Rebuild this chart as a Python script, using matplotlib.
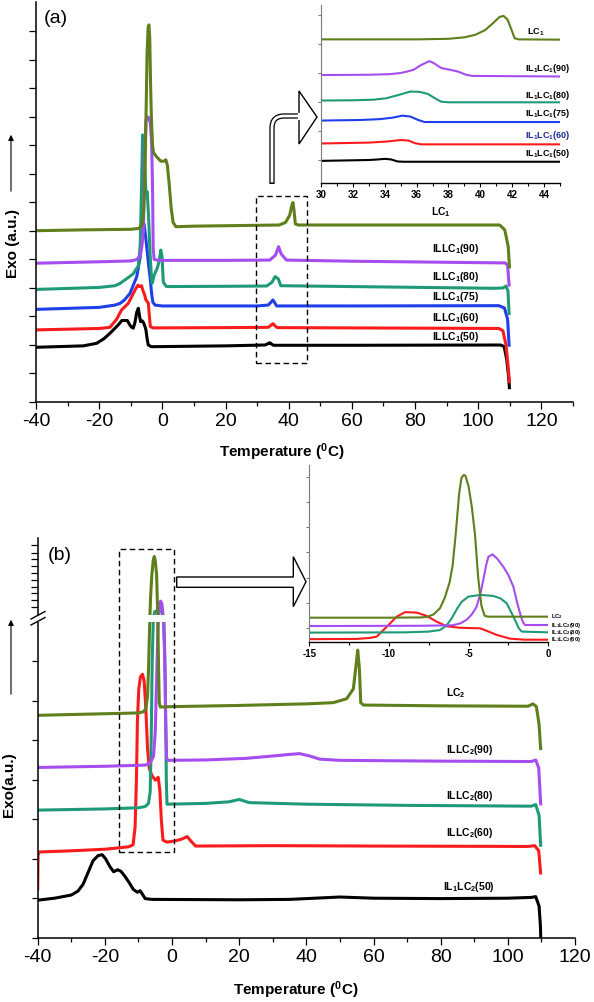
import matplotlib
matplotlib.use("Agg")
import matplotlib.pyplot as plt
from matplotlib.patches import Rectangle, Polygon, PathPatch
from matplotlib.path import Path
from matplotlib.ticker import MultipleLocator

plt.rcParams["font.family"] = ["Liberation Sans", "DejaVu Sans"]
plt.rcParams["mathtext.fontset"] = "custom"
plt.rcParams["mathtext.rm"] = "Liberation Sans"
plt.rcParams["mathtext.bf"] = "Liberation Sans:bold"
plt.rcParams["mathtext.default"] = "bf"
plt.rcParams["axes.unicode_minus"] = False

GREEN = "#5e7f1b"
PURPLE = "#a64df0"
TEAL = "#1f9a78"
BLUE = "#1f3fea"
RED = "#fa1c1c"
BLACK = "#000000"

# ---------------- panel (a): (temperature, signal) ----------------
a_lc1 = [(-40, 6.01), (-25, 6.04), (-10, 6.06), (-7.5, 6.09), (-6.5, 6.2), (-6.0, 6.5),
         (-5.6, 7.6), (-5.2, 9.8), (-4.85, 12.2), (-4.5, 13.15), (-4.25, 13.23), (-4.0, 12.8),
         (-3.7, 11.0), (-3.45, 9.9), (-3.1, 9.0), (-2.8, 8.75), (-1.8, 8.6), (-0.5, 8.45),
         (0.5, 8.45), (1.1, 8.5), (1.6, 8.3), (2.2, 7.6), (2.8, 6.8), (3.4, 6.3), (4.3, 6.15),
         (10, 6.17), (30, 6.2), (37, 6.21), (39, 6.3), (40.3, 6.55), (41.0, 6.9), (41.35, 7.0),
         (41.7, 6.7), (42.1, 6.25), (43, 6.21), (80, 6.21), (106.8, 6.21), (108.4, 6.04),
         (109.5, 5.45), (109.9, 4.69)]
a_90 = [(-40, 4.87), (-20, 4.92), (-10, 4.95), (-8, 5.0), (-7, 5.16), (-6.5, 5.45), (-6.0, 6.03),
        (-5.6, 8.5), (-5.2, 9.9), (-4.5, 10.0), (-3.8, 9.8), (-3.4, 9.1), (-3.1, 7.5), (-2.9, 5.4),
        (-2.6, 5.0), (-1, 4.97), (20, 4.97), (34, 4.98), (35.8, 5.15), (36.8, 5.45), (37.6, 5.2),
        (38.5, 5.08), (39.3, 4.98), (60, 4.94), (100, 4.89), (108.5, 4.88), (109.3, 4.8),
        (109.8, 4.05)]
a_80 = [(-40, 3.95), (-20, 4.02), (-15, 4.08), (-13.4, 4.16), (-11, 4.35), (-9.2, 4.5),
        (-7.6, 4.78), (-7.0, 5.5), (-6.6, 7.5), (-6.25, 9.37), (-5.8, 9.3), (-5.4, 7.8),
        (-5.2, 7.32), (-4.8, 7.38), (-4.4, 6.6), (-3.9, 5.22), (-3.5, 4.45), (-3.2, 4.17),
        (-2.6, 4.45), (-1.6, 4.7), (-1.0, 4.95), (-0.5, 5.33), (-0.1, 5.1), (0.3, 4.2),
        (1.3, 4.05), (20, 4.06), (33, 4.07), (34.7, 4.2), (35.7, 4.4), (36.7, 4.32), (37.5, 4.08),
        (60, 4.05), (105, 3.99), (107.8, 4.0), (108.8, 4.07), (109.4, 3.9), (109.8, 3.05)]
a_75 = [(-40, 3.25), (-20, 3.32), (-15, 3.4), (-13.4, 3.46), (-12, 3.58), (-10.25, 3.81),
        (-8.1, 4.4), (-7.0, 5.1), (-6.4, 5.8), (-5.8, 6.25), (-5.3, 5.8), (-4.8, 5.3),
        (-4.3, 4.75), (-3.9, 4.4), (-3.4, 3.8), (-3.0, 3.5), (-2.3, 3.4), (0, 3.37), (30, 3.37),
        (33.5, 3.4), (34.4, 3.5), (35.0, 3.58), (35.6, 3.48), (36.2, 3.37), (60, 3.37),
        (106.5, 3.38), (108.3, 3.3), (109.3, 2.9), (109.8, 1.94)]
a_60 = [(-40, 2.53), (-20, 2.58), (-16.6, 2.62), (-14.5, 2.9), (-12.9, 3.23), (-10.8, 3.46),
        (-9.2, 3.81), (-8.2, 4.02), (-7.7, 4.1), (-7.2, 4.05), (-6.6, 4.08), (-6.2, 3.93),
        (-5.6, 3.75), (-5.2, 3.58), (-4.45, 3.47), (-4.1, 3.0), (-3.8, 2.65), (-3.0, 2.6),
        (20, 2.61), (33.5, 2.62), (34.5, 2.7), (35.0, 2.75), (35.6, 2.68), (36.3, 2.61),
        (60, 2.6), (106.5, 2.58), (107.8, 2.5), (108.8, 2.0), (109.5, 1.2), (109.9, 0.66)]
a_50 = [(-40, 1.92), (-25, 1.97), (-20.8, 2.06), (-18.5, 2.22), (-16.6, 2.41), (-14, 2.7),
        (-12.8, 2.86), (-11.1, 2.86), (-10.3, 2.7), (-9.7, 2.62), (-9.2, 2.59), (-8.7, 2.78),
        (-8.1, 3.15), (-7.6, 3.29), (-7.2, 3.0), (-6.9, 2.82), (-6.4, 2.85), (-6.0, 2.79),
        (-5.5, 2.65), (-5.2, 2.53), (-4.8, 2.2), (-4.45, 2.0), (-3.5, 1.94), (20, 1.97),
        (32.5, 2.0), (33.5, 2.05), (34.0, 2.08), (34.6, 2.03), (35.2, 1.99), (60, 1.99),
        (107, 2.0), (108.2, 1.95), (109.0, 1.5), (109.6, 0.9), (109.9, 0.45)]
a_labels = ["ILLC$_1$(50)", "ILLC$_1$(60)", "ILLC$_1$(75)", "ILLC$_1$(80)", "ILLC$_1$(90)", "LC$_1$"]
a_label_y = [2.27, 2.95, 3.67, 4.40, 5.37, 6.68]

# inset (a), 30-45 C
ai_lc1 = [(30, 4.16), (36, 4.16), (38, 4.18), (39, 4.23), (39.7, 4.32), (40.3, 4.48), (40.8, 4.72),
          (41.2, 4.93), (41.45, 4.97), (41.7, 4.85), (41.95, 4.5), (42.15, 4.2), (42.4, 4.16),
          (45, 4.15)]
ai_90 = [(30, 2.93), (33, 2.94), (34.3, 2.96), (35.0, 3.0), (35.4, 3.05), (35.8, 3.11), (36.3, 3.28),
         (36.8, 3.41), (37.05, 3.35), (37.55, 3.17), (38.2, 3.1), (38.6, 3.05), (39.1, 2.94),
         (39.5, 2.9), (45, 2.88)]
ai_80 = [(30, 2.05), (32, 2.06), (33.3, 2.08), (34.1, 2.13), (34.85, 2.24), (35.6, 2.36), (36.2, 2.35),
         (36.7, 2.28), (37.15, 2.13), (37.55, 2.01), (38, 1.99), (45, 1.99)]
ai_75 = [(30, 1.36), (32.5, 1.38), (33.7, 1.41), (34.5, 1.46), (35.1, 1.53), (35.6, 1.5), (36.1, 1.38),
         (36.5, 1.31), (45, 1.31)]
ai_60 = [(30, 0.57), (33, 0.6), (34.2, 0.64), (35.0, 0.69), (35.5, 0.67), (35.9, 0.58), (36.3, 0.54),
         (45, 0.54)]
ai_50 = [(30, -0.03), (33, 0.0), (33.6, 0.02), (34.0, 0.04), (34.4, 0.02), (34.8, -0.05), (35.2, -0.06),
         (45, -0.06)]
ai_labels = ["IL$_1$LC$_1$(50)", "IL$_1$LC$_1$(60)", "IL$_1$LC$_1$(75)", "IL$_1$LC$_1$(80)",
             "IL$_1$LC$_1$(90)", "LC$_1$"]
ai_label_y = [0.21, 0.86, 1.62, 2.22, 3.17, 4.41]

# ---------------- panel (b) ----------------
b_lc2 = [(-40, 5.63), (-30, 5.65), (-20, 5.67), (-10, 5.69), (-8.5, 5.72), (-7.8, 5.8), (-7.3, 6.1),
         (-7.0, 6.8), (-6.7, 7.8), (-6.4, 8.6), (-6.0, 9.2), (-5.6, 9.55), (-5.3, 9.65), (-5.0, 9.55),
         (-4.6, 9.2), (-4.3, 8.3), (-4.0, 6.8), (-3.8, 5.95), (-3.5, 5.84), (0, 5.85), (20, 5.88),
         (40, 5.92), (48, 5.95), (52, 6.05), (54, 6.3), (54.8, 6.9), (55.3, 7.28), (55.8, 6.8),
         (56.2, 5.95), (57, 5.89), (80, 5.87), (106, 5.86), (107.5, 5.92), (108.5, 5.85),
         (109.3, 5.4), (109.8, 4.75)]
b_90 = [(-40, 4.31), (-20, 4.34), (-8, 4.37), (-6.5, 4.42), (-5.5, 4.6), (-5.0, 5.2), (-4.6, 6.5),
        (-4.2, 7.8), (-3.8, 8.35), (-3.4, 8.52), (-3.0, 8.45), (-2.6, 8.1), (-2.2, 7.2), (-1.9, 5.5),
        (-1.6, 4.55), (-1.2, 4.49), (10, 4.5), (22, 4.54), (30, 4.6), (35, 4.64), (38, 4.66),
        (41, 4.6), (44, 4.52), (50, 4.49), (80, 4.47), (107, 4.46), (108.3, 4.5), (109.2, 4.3),
        (109.8, 3.35)]
b_80 = [(-40, 3.23), (-20, 3.26), (-10, 3.29), (-8, 3.32), (-7, 3.4), (-6.5, 3.7), (-6.2, 5.0),
        (-5.9, 7.0), (-5.6, 8.0), (-5.2, 8.25), (-4.0, 8.3), (-3.0, 8.25), (-2.4, 8.0), (-2.0, 6.5),
        (-1.7, 4.0), (-1.5, 3.38), (10, 3.4), (17, 3.44), (20, 3.5), (23, 3.42), (40, 3.38),
        (70, 3.35), (107, 3.33), (108.3, 3.37), (109.3, 3.1), (109.8, 2.3)]
b_60 = [(-40, 1.2), (-39.9, 2.1), (-39.5, 2.17), (-30, 2.2), (-20, 2.24), (-13, 2.3), (-11.6, 2.35),
        (-11.0, 2.8), (-10.6, 4.0), (-10.3, 5.5), (-9.9, 6.3), (-9.4, 6.6), (-8.8, 6.67), (-8.3, 6.5),
        (-7.8, 5.8), (-7.3, 4.8), (-6.8, 4.3), (-6.1, 4.12), (-5.0, 3.99), (-4.1, 4.06), (-3.6, 3.7),
        (-3.2, 3.0), (-2.7, 2.47), (-1.5, 2.42), (1, 2.45), (3, 2.5), (4.5, 2.56), (5.6, 2.45),
        (7, 2.32), (30, 2.33), (60, 2.32), (106, 2.31), (108, 2.33), (109.2, 2.2), (109.8, 1.6)]
b_50 = [(-40, 0.95), (-35, 1.0), (-30, 1.08), (-28, 1.18), (-26.5, 1.35), (-25, 1.65), (-23.5, 1.95),
        (-22, 2.08), (-20.8, 2.1), (-19.8, 2.0), (-18.5, 1.8), (-17.4, 1.67), (-16.2, 1.72),
        (-15.2, 1.68), (-14, 1.55), (-12.8, 1.4), (-11.5, 1.22), (-10.3, 1.15), (-9.5, 1.19),
        (-8.8, 1.1), (-8.0, 0.99), (-6, 0.97), (20, 0.96), (35, 0.97), (45, 1.01), (50, 1.03),
        (60, 1.0), (80, 0.99), (100, 1.0), (107, 1.02), (108.3, 1.04), (109.3, 0.8), (109.7, 0.3),
        (109.8, 0.0)]
b_labels = ["IL$_1$LC$_2$(50)", "ILLC$_2$(60)", "ILLC$_2$(80)", "ILLC$_2$(90)", "LC$_2$"]
b_label_x = [88.5, 88.5, 88.5, 88.5, 84.6]
b_label_y = [1.29, 2.64, 3.59, 4.75, 6.19]
b_lower_ticks = [0, 1, 2, 3, 4, 5, 6, 7]
b_upper_ticks = [8.38, 8.55, 8.73, 8.89, 9.06, 9.24, 9.40, 9.59, 9.75, 9.95]

# inset (b), -15-0 C
bi_lc2 = [(-15, 0.42), (-10, 0.42), (-8, 0.43), (-7.6, 0.45), (-7.2, 0.55), (-6.8, 0.79), (-6.5, 1.2),
          (-6.2, 1.8), (-6.0, 2.5), (-5.8, 3.8), (-5.6, 5.3), (-5.45, 5.95), (-5.3, 6.06), (-5.2, 6.03),
          (-5.0, 5.6), (-4.8, 4.8), (-4.6, 3.7), (-4.4, 2.0), (-4.2, 0.9), (-4.0, 0.5), (-3.8, 0.46),
          (0, 0.46)]
bi_90 = [(-15, 0.09), (-8, 0.1), (-6, 0.12), (-5.5, 0.2), (-5.1, 0.35), (-4.8, 0.55), (-4.5, 0.85),
         (-4.25, 1.4), (-4.08, 1.91), (-3.9, 2.5), (-3.76, 2.83), (-3.5, 2.92), (-3.2, 2.75),
         (-2.82, 2.43), (-2.5, 2.1), (-2.19, 1.64), (-1.95, 1.0), (-1.77, 0.59), (-1.6, 0.25),
         (-1.46, 0.13), (0, 0.13)]
bi_80 = [(-15, -0.17), (-9, -0.16), (-7.5, -0.13), (-6.8, -0.07), (-6.4, 0.1), (-6.06, 0.4),
         (-5.7, 0.8), (-5.43, 1.05), (-5.02, 1.25), (-4.28, 1.32), (-3.45, 1.28), (-3.0, 1.18),
         (-2.61, 0.99), (-2.3, 0.6), (-2.09, 0.33), (-1.85, 0.0), (-1.67, -0.13), (0, -0.16)]
bi_60 = [(-15, -0.43), (-12, -0.42), (-11.2, -0.38), (-10.77, -0.33), (-10.14, 0.06), (-9.51, 0.46),
         (-8.99, 0.64), (-8.26, 0.62), (-7.63, 0.49), (-7.0, 0.26), (-6.37, 0.08), (-5.54, 0.02),
         (-4.28, 0.0), (-3.86, -0.1), (-3.24, -0.26), (-2.4, -0.41), (-1.5, -0.45), (0, -0.45)]
bi_labels = ["IL$_1$LC$_2$(60)", "IL$_1$LC$_2$(80)", "IL$_1$LC$_2$(90)", "LC$_2$"]
bi_label_y = [-0.46, -0.17, 0.13, 0.47]

W, H = 594, 1002
fig = plt.figure(figsize=(W / 100, H / 100), dpi=100)


def px_axes(left, top, right, bottom):
    return fig.add_axes([left / W, 1 - bottom / H, (right - left) / W, (bottom - top) / H])


def curve(ax, pts, color, lw):
    t, y = zip(*pts)
    ax.plot(t, y, color=color, lw=lw, solid_joinstyle="round", solid_capstyle="butt")


def style(ax, spine_lw=1.1):
    for s in ["top", "right"]:
        ax.spines[s].set_visible(False)
    for s in ["left", "bottom"]:
        ax.spines[s].set_linewidth(spine_lw)
    ax.patch.set_alpha(0)


# ----- panel (a) main -----
ax_a = px_axes(36, 2, 573, 402)
style(ax_a)
for pts, c in [(a_50, BLACK), (a_60, RED), (a_75, BLUE), (a_80, TEAL), (a_90, PURPLE), (a_lc1, GREEN)]:
    curve(ax_a, pts, c, 2.2)
ax_a.set_xlim(-40, 130)
ax_a.set_ylim(0, 400 / 28.5)
ax_a.set_xticks(range(-40, 121, 20))
ax_a.xaxis.set_minor_locator(MultipleLocator(10))
ax_a.set_yticks(range(0, 14))
ax_a.set_yticklabels([])
ax_a.tick_params(axis="x", which="major", length=5, width=0.9, labelsize=14, pad=3)
ax_a.tick_params(axis="x", which="minor", length=3, width=0.9)
ax_a.tick_params(axis="y", length=5, width=0.9)
for lab, y in zip(a_labels, a_label_y):
    ax_a.text(92.8 if lab != "LC$_1$" else 88.1, y, lab, fontsize=7.5, fontweight="bold",
              ha="center", va="center")
ax_a.add_patch(Rectangle((29.8, 1.38), 45.7 - 29.8, 7.23 - 1.38, fill=False, ls=(0, (4, 2.5)),
                         lw=1.0, color="black", zorder=5))

# ----- inset (a) -----
ax_ai = px_axes(321, 5, 560, 183.3)
style(ax_ai, 1.0)
ax_ai.spines["left"].set_color("#7a7a7a")
ax_ai.spines["left"].set_linewidth(0.8)
for pts, c in [(ai_50, BLACK), (ai_60, RED), (ai_75, BLUE), (ai_80, TEAL), (ai_90, PURPLE), (ai_lc1, GREEN)]:
    curve(ax_ai, pts, c, 1.5)
ax_ai.set_xlim(30, 45)
ax_ai.set_ylim(-0.803, 5.345)
ax_ai.set_xticks(range(30, 45, 2))
ax_ai.xaxis.set_minor_locator(MultipleLocator(1))
ax_ai.set_yticks(range(0, 6))
ax_ai.set_yticklabels([])
ax_ai.tick_params(axis="x", which="major", length=3, width=0.8, labelsize=7, pad=2)
ax_ai.tick_params(axis="x", which="minor", length=2, width=0.8)
ax_ai.tick_params(axis="y", length=2.5, width=0.8, color="#7a7a7a")
for t in ax_ai.get_xticklabels():
    t.set_fontweight("bold")
for lab, y in zip(ai_labels, ai_label_y):
    if lab == "LC$_1$":
        ax_ai.text(42.93, y, lab, fontsize=6.5, fontweight="bold", ha="left", va="center")
    else:
        col = "#1a2a9a" if "(60)" in lab else "black"
        ax_ai.text(44.25, y, lab, fontsize=6.5, fontweight="bold", ha="center", va="center",
                   color=col, clip_on=False)

# ----- panel (b) main -----
ax_b = px_axes(37.7, 538, 575, 937.7)
style(ax_b)
for pts, c in [(b_50, BLACK), (b_60, RED), (b_80, TEAL), (b_90, PURPLE), (b_lc2, GREEN)]:
    curve(ax_b, pts, c, 2.2)
ax_b.set_xlim(-40, 120)
ax_b.set_ylim(0, 399.7 / 39.5)
ax_b.set_xticks(range(-40, 121, 20))
ax_b.xaxis.set_minor_locator(MultipleLocator(10))
ax_b.set_yticks(b_lower_ticks)
ax_b.set_yticks(b_upper_ticks, minor=True)
ax_b.set_yticklabels([])
ax_b.tick_params(axis="x", which="major", length=5, width=0.9, labelsize=14, pad=3)
ax_b.tick_params(axis="x", which="minor", length=3, width=0.9)
ax_b.tick_params(axis="y", which="major", length=4, width=0.9)
ax_b.tick_params(axis="y", which="minor", length=5, width=0.9)
for lab, x, y in zip(b_labels, b_label_x, b_label_y):
    ax_b.text(x, y, lab, fontsize=7.5, fontweight="bold", ha="center", va="center")
ax_b.add_patch(Rectangle((-15.8, 2.18), 16.5, 9.83 - 2.18, fill=False, ls=(0, (4, 2.5)),
                         lw=1.0, color="black", zorder=5))

# ----- inset (b) -----
ax_bi = px_axes(309.3, 465, 548.3, 642)
style(ax_bi, 1.0)
ax_bi.spines["left"].set_color("#7a7a7a")
ax_bi.spines["left"].set_linewidth(0.8)
for pts, c in [(bi_60, RED), (bi_80, TEAL), (bi_90, PURPLE), (bi_lc2, GREEN)]:
    curve(ax_bi, pts, c, 1.5)
ax_bi.set_xlim(-15, 0)
ax_bi.set_ylim(-0.5415, 6.455)
ax_bi.set_xticks([-15, -10, -5, 0])
ax_bi.xaxis.set_minor_locator(MultipleLocator(2.5))
ax_bi.set_yticks(range(0, 7))
ax_bi.set_yticklabels([])
ax_bi.tick_params(axis="x", which="major", length=3, width=0.8, labelsize=7, pad=2)
ax_bi.tick_params(axis="x", which="minor", length=2, width=0.8)
ax_bi.tick_params(axis="y", length=2.5, width=0.8, color="#7a7a7a")
for t in ax_bi.get_xticklabels():
    t.set_fontweight("bold")
for lab, y in zip(bi_labels, bi_label_y):
    ax_bi.text(0.2, y, lab, fontsize=4.2, fontweight="bold", ha="left", va="center", clip_on=False)

# ----- overlay for decorations (pixel coordinates) -----
ov = fig.add_axes([0, 0, 1, 1])
ov.set_xlim(0, W)
ov.set_ylim(H, 0)
ov.axis("off")

# hollow bent arrow in (a)
bend = Path([(272, 184), (272, 128), (272, 116), (284, 116), (302, 116)],
            [Path.MOVETO, Path.LINETO, Path.CURVE3, Path.CURVE3, Path.LINETO])
ov.add_patch(PathPatch(bend, fill=False, lw=3.8, edgecolor="black", capstyle="butt"))
bend_in = Path([(272, 182.5), (272, 128), (272, 116), (284, 116), (302, 116)],
               [Path.MOVETO, Path.LINETO, Path.CURVE3, Path.CURVE3, Path.LINETO])
ov.add_patch(PathPatch(bend_in, fill=False, lw=2.0, edgecolor="white", capstyle="butt"))
ov.add_patch(Polygon([(299, 91), (317, 117), (299, 144)], closed=True, facecolor="white",
                     edgecolor="black", lw=1.0))
ov.plot([299, 299], [113.5, 118.5], color="white", lw=1.6)

# hollow straight arrow in (b)
ov.add_patch(Polygon([(176.7, 577), (293.3, 577), (293.3, 556.7), (306, 581.7), (293.3, 606.7),
                      (293.3, 587.3), (176.7, 587.3)], closed=True, facecolor="white",
                     edgecolor="black", lw=1.0))

# axis break in (b)
ov.add_patch(Rectangle((140, 615), 32, 6.5, facecolor="white", edgecolor="none"))
ov.add_patch(Rectangle((35, 615.5), 5, 6, facecolor="white", edgecolor="none"))
ov.plot([31, 45], [619, 611.5], color="black", lw=1.0)
ov.plot([31, 45], [625, 617.5], color="black", lw=1.0)

# y-axis arrows
ov.annotate("", xy=(11, 132), xytext=(11, 194),
            arrowprops=dict(arrowstyle="-|>", lw=0.8, color="black", mutation_scale=8))
ov.annotate("", xy=(11, 617), xytext=(11, 697),
            arrowprops=dict(arrowstyle="-|>", lw=0.8, color="black", mutation_scale=8))

# texts
ov.text(55.5, 18, "(a)", fontsize=14, ha="center", va="center")
ov.text(60, 555, "(b)", fontsize=14, ha="center", va="center")
ov.text(13, 243, "Exo (a.u.)", fontsize=11, fontweight="bold", rotation=90, ha="center", va="center")
ov.text(9, 785, "Exo(a.u.)", fontsize=11, fontweight="bold", rotation=90, ha="center", va="center")
ov.text(282, 452, "Temperature ($^0$C)", fontsize=11, fontweight="bold", ha="center", va="center")
ov.text(296, 990, "Temperature ($^0$C)", fontsize=11, fontweight="bold", ha="center", va="center")

fig.savefig("out.png", dpi=100)
